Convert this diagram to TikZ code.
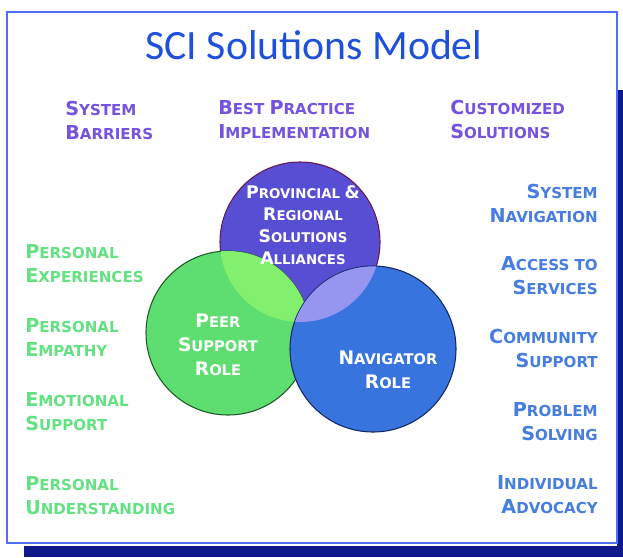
\documentclass[tikz,border=0pt]{standalone}
\usepackage{fontspec}
\usepackage{tikz}
\usetikzlibrary{positioning}
\newfontfamily\titlefont{Carlito}
\newfontfamily\labelfont{DejaVu Sans}
\definecolor{ttlblue}{RGB}{30,80,220}
\definecolor{lpurple}{RGB}{118,82,224}
\definecolor{lgreen}{RGB}{100,225,130}
\definecolor{lblue}{RGB}{70,125,225}
\definecolor{cpurple}{RGB}{88,78,212}
\definecolor{epurple}{RGB}{100,25,85}
\definecolor{cgreen}{RGB}{94,222,112}
\definecolor{egreen}{RGB}{30,90,40}
\definecolor{cblue}{RGB}{56,116,222}
\definecolor{eblue}{RGB}{20,40,100}
\definecolor{ogreen}{RGB}{130,240,110}
\definecolor{oblue}{RGB}{150,150,240}
\definecolor{framec}{RGB}{80,110,250}
\definecolor{bandc}{RGB}{15,25,140}
\def \fcsize {14.4}
\def \fc#1{{\fontsize{\fcsize}{18}\selectfont#1}}

\begin{document}
\begin{tikzpicture}[x=0.75pt,y=-0.75pt,
    lbl/.style={font=\labelfont\bfseries\fontsize{11.3}{18}\selectfont,inner sep=0pt},
    lefttxt/.style={lbl,text=lgreen,anchor=west,align=left},
    righttxt/.style={lbl,text=lblue,anchor=east,align=right},
    toptxt/.style={lbl,text=lpurple,anchor=west,align=left},
    intxt/.style={font=\labelfont\bfseries\fontsize{10}{18}\selectfont\def\fcsize{13},
      inner sep=0pt,text=white,align=center},
    bigtxt/.style={intxt,font=\labelfont\bfseries\fontsize{11}{18}\selectfont\def\fcsize{14}},
    ring/.style={circle,draw,line width=0.8pt,inner sep=0pt}]

    \useasboundingbox[fill=white] (0,0) rectangle (623,557);
    \fill[bandc] (617,90) rectangle (623,557);
    \fill[bandc] (24,546) rectangle (623,557);
    \draw[framec,line width=1.5pt,fill=white] (7,12) rectangle (617,543);

    \node[font=\titlefont\fontsize{31.3}{36}\selectfont,text=ttlblue] (title) at (314,45) {SCI Solutions Model};

    \node[ring,fill=cpurple,draw=epurple,minimum size=120pt] (prov) at (300,242) {};
    \node[ring,fill=cgreen,draw=egreen,minimum size=123pt] (peer) at (228,333) {};
    \begin{scope}
      \clip (peer.center) circle[radius=61.5pt];
      \fill[ogreen] (prov.center) circle[radius=60pt];
    \end{scope}
    \node[ring,fill=cblue,draw=eblue,minimum size=124.5pt] (nav) at (373,349) {};
    \begin{scope}
      \clip (nav.center) circle[radius=62pt];
      \fill[oblue] (prov.center) circle[radius=60pt];
    \end{scope}

    \node[intxt] (provtxt) at (303,225) {\fc{P}ROVINCIAL \fc{\&}\\[-1.5pt]\fc{R}EGIONAL\\[-1.5pt]\fc{S}OLUTIONS\\[-1.5pt]\fc{A}LLIANCES};
    \node[bigtxt] (peertxt) at (218,345) {\fc{P}EER\\\fc{S}UPPORT\\\fc{R}OLE};
    \node[bigtxt] (navtxt) at (388,370) {\fc{N}AVIGATOR\\\fc{R}OLE};

    \node[toptxt] (barriers) at (65,120) {\fc{S}YSTEM\\\fc{B}ARRIERS};
    \node[toptxt] (practice) at (218,120) {\fc{B}EST \fc{P}RACTICE\\\fc{I}MPLEMENTATION};
    \node[toptxt] (custom) at (450,120) {\fc{C}USTOMIZED\\\fc{S}OLUTIONS};

    \node[lefttxt] (experiences) at (25,264) {\fc{P}ERSONAL\\\fc{E}XPERIENCES};
    \node[lefttxt] (empathy) at (25,337) {\fc{P}ERSONAL\\\fc{E}MPATHY};
    \node[lefttxt] (emotional) at (25,412) {\fc{E}MOTIONAL\\\fc{S}UPPORT};
    \node[lefttxt] (understanding) at (25,496) {\fc{P}ERSONAL\\\fc{U}NDERSTANDING};

    \node[righttxt] (navigation) at (598,203) {\fc{S}YSTEM\\\fc{N}AVIGATION};
    \node[righttxt] (access) at (598,276) {\fc{A}CCESS TO\\\fc{S}ERVICES};
    \node[righttxt] (community) at (598,349) {\fc{C}OMMUNITY\\\fc{S}UPPORT};
    \node[righttxt] (problem) at (598,422) {\fc{P}ROBLEM\\\fc{S}OLVING};
    \node[righttxt] (advocacy) at (598,495) {\fc{I}NDIVIDUAL\\\fc{A}DVOCACY};
\end{tikzpicture}
\end{document}
